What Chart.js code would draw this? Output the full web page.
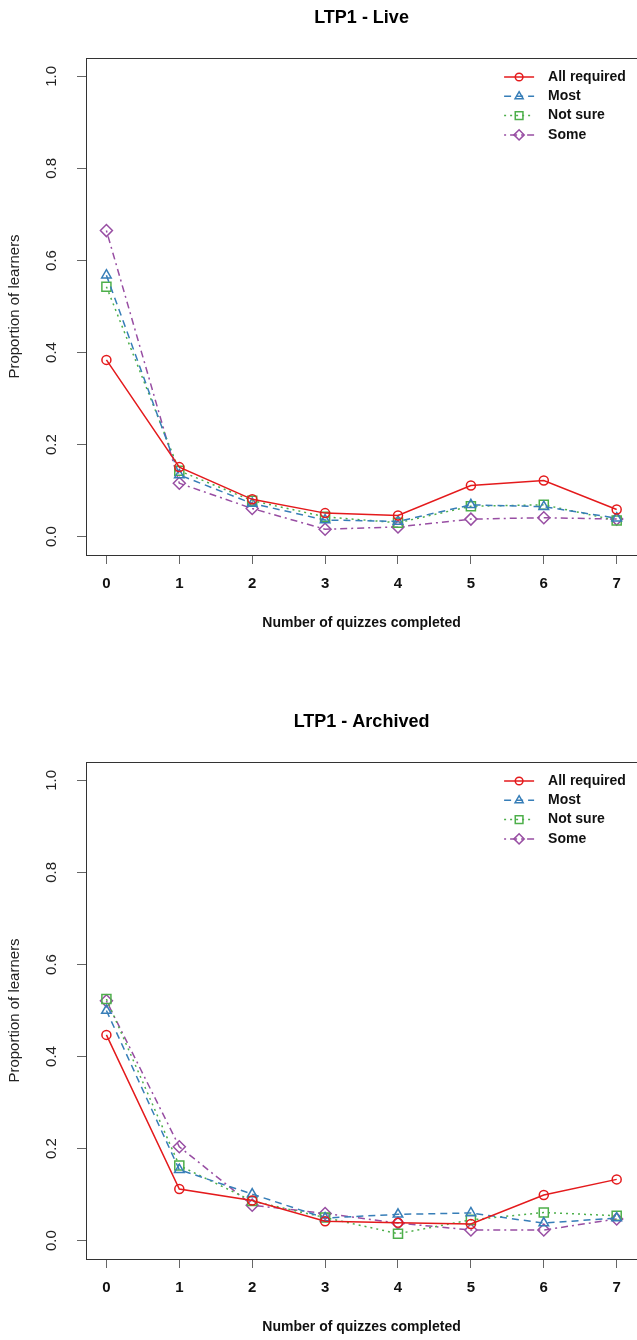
<!DOCTYPE html>
<html>
<head>
<meta charset="utf-8">
<script src="https://cdn.jsdelivr.net/npm/chart.js@4.4.1/dist/chart.umd.min.js"></script>
<style>
html, body { margin: 0; padding: 0; background: #fff; overflow: hidden; width: 637px; height: 1340px; }
canvas { position: absolute; left: 0; }
#liveChart { top: 0; }
#archivedChart { top: 704px; }
</style>
</head>
<body>
<canvas id="liveChart" width="645" height="704"></canvas>
<canvas id="archivedChart" width="645" height="704"></canvas>
<script>
// categorias e ticks
const quizzes = [0, 1, 2, 3, 4, 5, 6, 7];
const yTickValues = [0, 0.2, 0.4, 0.6, 0.8, 1.0];
const groups = ['All required', 'Most', 'Not sure', 'Some'];

// LTP1 - Live
const liveAll     = [0.384, 0.151, 0.081, 0.051, 0.046, 0.111, 0.122, 0.059];
const liveMost    = [0.568, 0.134, 0.072, 0.036, 0.033, 0.069, 0.065, 0.040];
const liveNotSure = [0.543, 0.143, 0.078, 0.043, 0.030, 0.066, 0.069, 0.035];
const liveSome    = [0.665, 0.116, 0.061, 0.016, 0.021, 0.038, 0.041, 0.038];

// LTP1 - Archived
const arcAll     = [0.447, 0.112, 0.087, 0.042, 0.039, 0.036, 0.099, 0.133];
const arcMost    = [0.500, 0.154, 0.101, 0.049, 0.057, 0.060, 0.038, 0.049];
const arcNotSure = [0.525, 0.163, 0.086, 0.050, 0.015, 0.045, 0.061, 0.054];
const arcSome    = [0.521, 0.204, 0.077, 0.059, 0.038, 0.023, 0.023, 0.047];

const FONT = '"Liberation Sans", Arial, sans-serif';

// estilo de cada grupo (cor, tracejado, marcador)
const styles = [
    { color: '#E41A1C', dash: [],           pointStyle: 'circle',  radius: 4.5 },
    { color: '#377EB8', dash: [7, 5],       pointStyle: 'triangle', radius: 5.5 },
    { color: '#4DAF4A', dash: [2, 4],       pointStyle: 'rect',    radius: 6.4 },
    { color: '#984EA3', dash: [2, 4, 7, 4], pointStyle: 'rectRot', radius: 6 }
];

// moldura do gráfico + rótulos do eixo y girados (estilo R)
const frameAndLabels = {
    id: 'frameAndLabels',
    afterDraw(chart) {
        const { ctx, chartArea: a, scales: { y } } = chart;
        ctx.save();
        ctx.strokeStyle = '#333';
        ctx.lineWidth = 1;
        ctx.strokeRect(a.left + 0.5, a.top + 0.5, a.right - a.left, a.bottom - a.top);
        ctx.fillStyle = '#222';
        ctx.font = '15px ' + FONT;
        ctx.textAlign = 'center';
        ctx.textBaseline = 'middle';
        y.ticks.forEach(t => {
            ctx.save();
            ctx.translate(a.left - 34, y.getPixelForValue(t.value));
            ctx.rotate(-Math.PI / 2);
            ctx.fillText(t.value.toFixed(1), 0, 0);
            ctx.restore();
        });
        ctx.restore();
    }
};

// legenda dentro da área do gráfico, canto superior direito
const insideLegend = {
    id: 'insideLegend',
    afterDatasetsDraw(chart) {
        const { ctx, chartArea: a } = chart;
        ctx.save();
        chart.data.datasets.forEach((ds, i) => {
            const y = a.top + 19 + i * 19.3;
            const x0 = a.right - 133, x1 = a.right - 103;
            ctx.strokeStyle = ds.borderColor;
            ctx.lineWidth = 1.5;
            ctx.setLineDash(ds.borderDash);
            ctx.beginPath();
            ctx.moveTo(x0, y);
            ctx.lineTo(x1, y);
            ctx.stroke();
            ctx.setLineDash([]);
            ctx.fillStyle = 'rgba(0,0,0,0)';
            Chart.helpers.drawPoint(ctx, {
                pointStyle: ds.pointStyle, radius: ds.pointRadius * 0.85, rotation: 0, borderWidth: 1.5
            }, (x0 + x1) / 2, y);
            ctx.fillStyle = '#111';
            ctx.font = 'bold 14px ' + FONT;
            ctx.textAlign = 'left';
            ctx.textBaseline = 'middle';
            ctx.fillText(ds.label, a.right - 89, y);
        });
        ctx.restore();
    }
};

function buildDatasets(seriesList) {
    return seriesList.map((values, i) => ({
        label: groups[i],
        data: quizzes.map((q, j) => ({ x: q, y: values[j] })),
        borderColor: styles[i].color,
        borderWidth: 1.5,
        borderDash: styles[i].dash,
        pointStyle: styles[i].pointStyle,
        pointRadius: styles[i].radius,
        pointBorderColor: styles[i].color,
        pointBackgroundColor: 'rgba(0,0,0,0)',
        pointBorderWidth: 1.5,
        tension: 0,
        fill: false
    }));
}

function buildOptions(titleText) {
    return {
        responsive: false,
        animation: false,
        layout: { padding: { top: 0, left: 0, right: 4, bottom: 64 } },
        plugins: {
            legend: { display: false },
            tooltip: { enabled: false },
            title: {
                display: true,
                text: titleText,
                fullSize: false,
                color: '#000',
                font: { family: FONT, size: 18, weight: 'bold' },
                padding: { top: 7, bottom: 29.4 }
            }
        },
        scales: {
            x: {
                type: 'linear',
                min: -0.28,
                max: 7.28,
                afterBuildTicks: s => { s.ticks = quizzes.map(v => ({ value: v })); },
                afterFit: s => { s.height = 85; },
                grid: { drawOnChartArea: false, drawTicks: true, tickLength: 9, color: '#666' },
                border: { display: false },
                ticks: {
                    padding: 11, color: '#111', autoSkip: false, maxRotation: 0,
                    font: { family: FONT, size: 15, weight: 'bold' }
                },
                title: {
                    display: true,
                    text: 'Number of quizzes completed',
                    color: '#111',
                    font: { family: FONT, size: 14, weight: 'bold' },
                    padding: { top: 0, bottom: 8.9 }
                }
            },
            y: {
                type: 'linear',
                min: -0.04,
                max: 1.04,
                afterBuildTicks: s => { s.ticks = yTickValues.map(v => ({ value: v })); },
                afterFit: s => { s.width = 86; },
                grid: { drawOnChartArea: false, drawTicks: true, tickLength: 9, color: '#666' },
                border: { display: false },
                ticks: { display: false },
                title: {
                    display: true,
                    text: 'Proportion of learners',
                    color: '#222',
                    font: { family: FONT, size: 15 },
                    padding: { top: 6, bottom: 0 }
                }
            }
        }
    };
}

new Chart(document.getElementById('liveChart'), {
    type: 'line',
    data: { datasets: buildDatasets([liveAll, liveMost, liveNotSure, liveSome]) },
    options: buildOptions('LTP1 - Live'),
    plugins: [frameAndLabels, insideLegend]
});

new Chart(document.getElementById('archivedChart'), {
    type: 'line',
    data: { datasets: buildDatasets([arcAll, arcMost, arcNotSure, arcSome]) },
    options: buildOptions('LTP1 - Archived'),
    plugins: [frameAndLabels, insideLegend]
});
</script>
</body>
</html>
